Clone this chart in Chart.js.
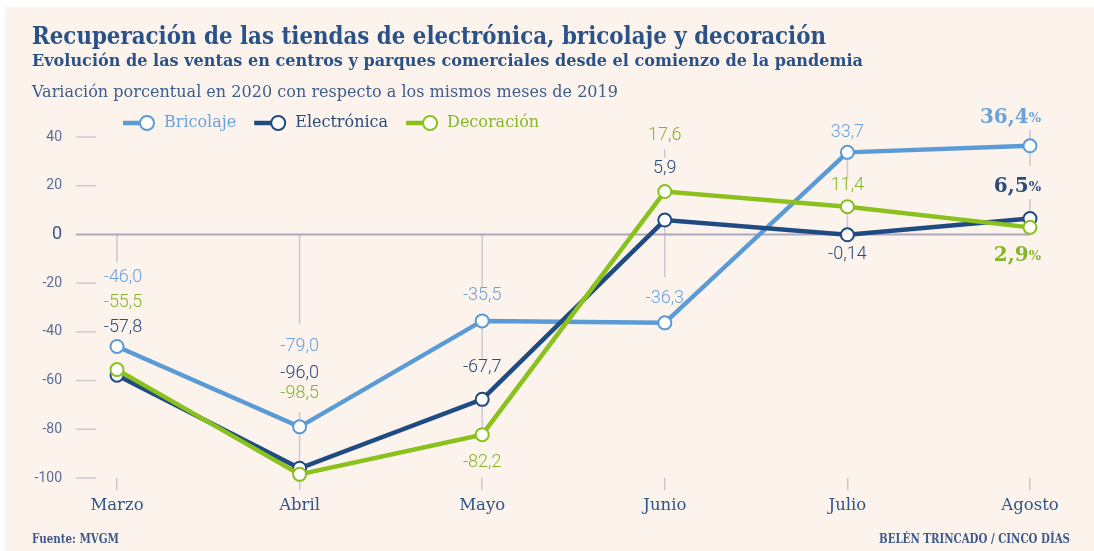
<!DOCTYPE html>
<html>
<head>
<meta charset="utf-8">
<script src="https://cdn.jsdelivr.net/npm/chart.js@4.4.0/dist/chart.umd.min.js"></script>
<style>
  html, body { margin: 0; padding: 0; background: #fff; }
  #wrap { width: 1094px; height: 551px; }
</style>
</head>
<body>
<div id="wrap"><canvas id="chart" width="1094" height="551"></canvas></div>
<script>
'use strict';

// datos: variación % 2020 vs 2019
var months = ['Marzo', 'Abril', 'Mayo', 'Junio', 'Julio', 'Agosto'];
var bricolaje = [-46.0, -79.0, -35.5, -36.3, 33.7, 36.4];
var electronica = [-57.8, -96.0, -67.7, 5.9, -0.14, 6.5];
var decoracion = [-55.5, -98.5, -82.2, 17.6, 11.4, 2.9];
var seriesNames = ['Bricolaje', 'Electrónica', 'Decoración'];
var yTicks = [40, 20, 0, -20, -40, -60, -80, -100];

// colores de línea y de texto
var lineColors = ['#5b9bd5', '#1e4b82', '#8bc11d'];
var textColors = ['#6ba2da', '#2b4b7a', '#84b62a'];

// desplazamiento vertical (px) de cada etiqueta respecto a su punto
var labelOffsets = [
    [-69, -80, -25, -24, -20, -28],
    [-48, -95, -32, -52, 20, -32],
    [-67, -81, 28, -56, -21, 28]
];

// líneas guía verticales: [mes, desde, hasta] en valores del eje
var guides = [
    [0, 0, -11.5],
    [1, 0, -37], [1, -73, -98.5],
    [2, 0, -22], [2, -35.5, -51], [2, -67.7, -82.2],
    [3, 35, 31.5], [3, 5.9, -17.7],
    [4, 33.7, 22.6], [4, 11.4, -0.14],
    [5, 43, 28], [5, 14.5, 6.5]
];

var SERIF = '"DejaVu Serif", "Liberation Serif", serif';
var SANS = 'Roboto, "Open Sans", sans-serif';
var BLUE_TEXT = '#2b5287';

function fmt(v) {
    return v.toLocaleString('es-ES', { minimumFractionDigits: 1, maximumFractionDigits: 2 });
}

// texto ajustado a un ancho dado (escala horizontal)
function fitText(ctx, text, x, y, width) {
    var w = ctx.measureText(text).width;
    ctx.save();
    ctx.translate(x, y);
    ctx.scale(width / w, 1);
    ctx.textAlign = 'left';
    ctx.fillText(text, 0, 0);
    ctx.restore();
}

var panel = {
    id: 'panel',
    beforeDraw: function(chart) {
        var ctx = chart.ctx;
        ctx.save();
        ctx.fillStyle = '#ffffff';
        ctx.fillRect(0, 0, chart.width, chart.height);
        ctx.fillStyle = '#fcf3ed';
        ctx.fillRect(5, 7, chart.width - 5, chart.height - 7);

        // cabecera
        ctx.fillStyle = BLUE_TEXT;
        ctx.textBaseline = 'alphabetic';
        ctx.font = 'bold 24px ' + SERIF;
        fitText(ctx, 'Recuperación de las tiendas de electrónica, bricolaje y decoración', 32, 44, 794);
        ctx.font = 'bold 17px ' + SERIF;
        fitText(ctx, 'Evolución de las ventas en centros y parques comerciales desde el comienzo de la pandemia', 32, 66, 831);
        ctx.fillStyle = '#3d5d8e';
        ctx.font = '16.5px ' + SERIF;
        fitText(ctx, 'Variación porcentual en 2020 con respecto a los mismos meses de 2019', 32, 97, 586);

        // pie
        ctx.fillStyle = '#3c5a8a';
        ctx.font = 'bold 12px ' + SERIF;
        fitText(ctx, 'Fuente: MVGM', 32, 543, 87);
        fitText(ctx, 'BELÉN TRINCADO / CINCO DÍAS', 879, 543, 191);

        // leyenda
        var lx = 123, ly = 123;
        ctx.font = '16px ' + SERIF;
        ctx.textBaseline = 'middle';
        seriesNames.forEach(function(name, i) {
            ctx.strokeStyle = lineColors[i];
            ctx.lineWidth = 4.5;
            ctx.beginPath();
            ctx.moveTo(lx, ly);
            ctx.lineTo(lx + 22, ly);
            ctx.stroke();
            ctx.beginPath();
            ctx.arc(lx + 24, ly, 7, 0, Math.PI * 2);
            ctx.fillStyle = '#fff';
            ctx.fill();
            ctx.lineWidth = 2;
            ctx.stroke();
            ctx.fillStyle = textColors[i];
            ctx.textAlign = 'left';
            ctx.fillText(name, lx + 41, ly);
            lx += 41 + ctx.measureText(name).width + 18;
        });
        ctx.restore();
    },
    beforeDatasetsDraw: function(chart) {
        var ctx = chart.ctx;
        var xs = chart.scales.x, ys = chart.scales.y;
        ctx.save();
        // marcas del eje y
        ctx.strokeStyle = '#cfcbd6';
        ctx.lineWidth = 1.5;
        yTicks.forEach(function(v) {
            if (v === 0) return;
            var py = ys.getPixelForValue(v);
            ctx.beginPath();
            ctx.moveTo(76, py);
            ctx.lineTo(96, py);
            ctx.stroke();
        });
        // guías verticales
        ctx.strokeStyle = '#cdc9d4';
        guides.forEach(function(g) {
            var px = xs.getPixelForValue(g[0]);
            ctx.beginPath();
            ctx.moveTo(px, ys.getPixelForValue(g[1]));
            ctx.lineTo(px, ys.getPixelForValue(g[2]));
            ctx.stroke();
        });
        // línea del cero
        var y0 = ys.getPixelForValue(0);
        ctx.strokeStyle = '#aba8bd';
        ctx.lineWidth = 2;
        ctx.beginPath();
        ctx.moveTo(76, y0);
        ctx.lineTo(chart.chartArea.right, y0);
        ctx.stroke();
        ctx.restore();
    },
    afterDatasetsDraw: function(chart) {
        var ctx = chart.ctx;
        ctx.save();
        ctx.textBaseline = 'middle';
        chart.data.datasets.forEach(function(ds, i) {
            var meta = chart.getDatasetMeta(i);
            meta.data.forEach(function(pt, j) {
                var y = pt.y + labelOffsets[i][j];
                ctx.fillStyle = textColors[i];
                if (j === ds.data.length - 1) {
                    // último mes en negrita con %
                    var right = pt.x + 11;
                    ctx.textAlign = 'right';
                    ctx.font = 'bold 13px ' + SERIF;
                    ctx.fillText('%', right, y + 1);
                    var pw = ctx.measureText('%').width;
                    ctx.font = 'bold 20px ' + SERIF;
                    ctx.fillText(fmt(ds.data[j]), right - pw, y);
                } else {
                    ctx.textAlign = 'center';
                    ctx.font = '300 18px ' + SANS;
                    ctx.fillText(fmt(ds.data[j]), pt.x + (j === 0 ? 6 : 0), y);
                }
            });
        });
        ctx.restore();
    }
};

function makeDataset(label, values, idx, order) {
    return {
        label: label,
        data: values,
        borderColor: lineColors[idx],
        backgroundColor: lineColors[idx],
        borderWidth: 4.5,
        pointRadius: 6.5,
        pointBorderWidth: 2,
        pointBackgroundColor: '#ffffff',
        pointBorderColor: lineColors[idx],
        tension: 0,
        clip: false,
        order: order
    };
}

var ctx = document.getElementById('chart').getContext('2d');
var chart = new Chart(ctx, {
    type: 'line',
    data: {
        labels: months,
        datasets: [
            makeDataset(seriesNames[0], bricolaje, 0, 2),
            makeDataset(seriesNames[1], electronica, 1, 1),
            makeDataset(seriesNames[2], decoracion, 2, 0)
        ]
    },
    options: {
        responsive: false,
        animation: false,
        events: [],
        layout: { padding: { top: 137, right: 64, bottom: 33, left: 5 } },
        plugins: {
            legend: { display: false },
            tooltip: { enabled: false }
        },
        scales: {
            x: {
                grid: { drawOnChartArea: false, color: '#cbc7d2', lineWidth: 1.5, tickLength: 12 },
                border: { display: false },
                ticks: {
                    color: '#2f5689',
                    font: { family: SERIF, size: 16.5 },
                    padding: 6,
                    maxRotation: 0,
                    autoSkip: false
                },
                afterFit: function(scale) { scale.height = 40; }
            },
            y: {
                min: -100,
                max: 40,
                afterBuildTicks: function(scale) {
                    scale.ticks = yTicks.map(function(v) { return { value: v }; });
                },
                grid: { display: false, drawTicks: false },
                border: { display: false },
                ticks: {
                    padding: 55,
                    color: function(c) { return c.tick && c.tick.value === 0 ? '#3f5686' : '#586d9a'; },
                    font: function(c) {
                        return { family: SANS, size: c.tick && c.tick.value === 0 ? 18 : 14 };
                    }
                },
                afterFit: function(scale) { scale.width = 112; }
            }
        }
    },
    plugins: [panel]
});
</script>
</body>
</html>
